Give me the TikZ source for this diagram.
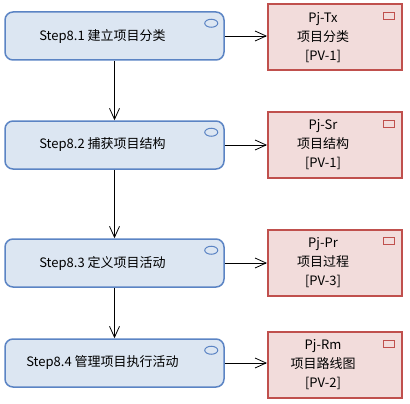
\documentclass[tikz,border=0pt]{standalone}
\usepackage{fontspec}
\setmainfont{Noto Sans CJK SC}
\usetikzlibrary{arrows.meta}

\definecolor{stepfill}{HTML}{DCE6F2}
\definecolor{stepline}{HTML}{5B84C4}
\definecolor{prodfill}{HTML}{F2DCDB}
\definecolor{prodline}{HTML}{C0504D}

\begin{document}
\begin{tikzpicture}[x=1pt, y=-1pt, node distance=109pt, font=\fontsize{13}{19}\selectfont,
    stepbox/.style={draw=stepline, fill=stepfill, line width=1.5pt, rounded corners=8pt, minimum width=219pt, minimum height=48pt, inner sep=0pt, execute at end node={\hspace*{24pt}}},
    prodbox/.style={draw=prodline, fill=prodfill, line width=2pt, minimum width=134pt, minimum height=66pt, inner sep=0pt, execute at end node={\hspace*{24pt}}},
    flow/.style={-{Straight Barb[length=11pt,width=10pt]}, line width=0.8pt}]
    \useasboundingbox (0,0) rectangle (410,404);

    \node (s1) [stepbox] at (114.5,36) {Step8.1 建立项目分类};
    \node (s2) [stepbox, below of=s1] {Step8.2 捕获项目结构};
    \node (s3) [stepbox, below of=s2, yshift=-9pt] {Step8.3 定义项目活动};
    \node (s4) [stepbox, below of=s3, yshift=9pt] {Step8.4 管理项目执行活动};

    \node (p1) [prodbox, right of=s1, node distance=220.5pt, yshift=-1.5pt] {\begin{tabular}{c}Pj-Tx\\项目分类\\{[PV-1]}\end{tabular}};
    \node (p2) [prodbox, right of=s2, node distance=220.5pt] {\begin{tabular}{c}Pj-Sr\\项目结构\\{[PV-1]}\end{tabular}};
    \node (p3) [prodbox, right of=s3, node distance=220.5pt, yshift=0.5pt] {\begin{tabular}{c}Pj-Pr\\项目过程\\{[PV-3]}\end{tabular}};
    \node (p4) [prodbox, right of=s4, node distance=220.5pt, yshift=-2pt] {\begin{tabular}{c}Pj-Rm\\项目路线图\\{[PV-2]}\end{tabular}};

    % small marks in the corners
    \foreach \n in {s1,s2,s3,s4}
        \draw[stepline, line width=1pt] ([xshift=-13.5pt,yshift=-12pt]\n.north east) ellipse (6.5pt and 4pt);
    \foreach \n in {p1,p2,p3,p4}
        \draw[prodline, line width=1pt] ([xshift=-20pt,yshift=-9pt]\n.north east) rectangle ++(11pt,-7pt);

    \draw[flow] (s1) -- (s2);
    \draw[flow] (s2) -- (s3);
    \draw[flow] (s3) -- (s4);
    \foreach \i in {1,...,4}
        \draw[flow] (s\i.east) -- (s\i.east -| p\i.west);
\end{tikzpicture}
\end{document}
